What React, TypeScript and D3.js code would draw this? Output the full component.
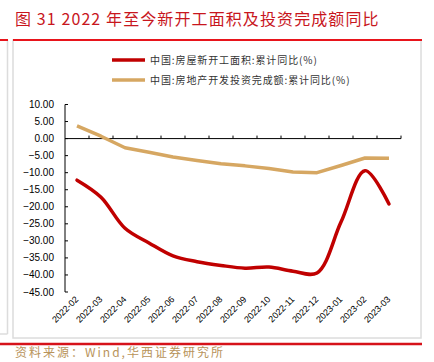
import React from 'react';
import * as d3 from 'd3';

const months = [
    '2022-02', '2022-03', '2022-04', '2022-05', '2022-06', '2022-07', '2022-08',
    '2022-09', '2022-10', '2022-11', '2022-12', '2023-01', '2023-02', '2023-03',
];
// 中国:房屋新开工面积:累计同比(%)
const newStarts = [-12.2, -17.2, -26.3, -30.6, -34.4, -36.1, -37.2, -38.0, -37.7, -38.9, -39.4, -24.5, -9.4, -19.2];
// 中国:房地产开发投资完成额:累计同比(%)
const investment = [3.7, 0.7, -2.7, -4.0, -5.4, -6.4, -7.4, -8.0, -8.8, -9.8, -10.0, -7.9, -5.7, -5.8];
const yTicks = [10, 5, 0, -5, -10, -15, -20, -25, -30, -35, -40, -45];
const legendLabels = ['中国:房屋新开工面积:累计同比(%)', '中国:房地产开发投资完成额:累计同比(%)'];

const RED = '#C00000';
const GOLD = '#D6A762';
const CJK = '"Noto Sans CJK SC", sans-serif';
const NUM = '"Liberation Sans", Arial, sans-serif';

const App: React.FC = () => {
    const width = 434;
    const height = 362;

    const x = d3.scaleBand<string>().domain(months).range([65, 401]);
    const y = d3.scaleLinear().domain([-45, 10]).range([292, 104.5]);
    const cx = (m: string) => (x(m) ?? 0) + x.bandwidth() / 2;

    const redLine = d3.line<number>()
        .x((_, i) => cx(months[i]))
        .y(d => y(d))
        .curve(d3.curveCatmullRom.alpha(0.5));
    const goldLine = d3.line<number>()
        .x((_, i) => cx(months[i]))
        .y(d => y(d));

    const fmt = d3.format('.2f');

    return (
        <svg width={width} height={height} style={{ position: 'absolute', left: 0, top: 0, background: '#fff' }}>
            {/* title */}
            <text x={15} y={25} fill="#C8161D" fontSize={16} letterSpacing={1.1} fontFamily={CJK}>
                图 31 2022 年至今新开工面积及投资完成额同比
            </text>

            {/* frame */}
            <line x1={7.5} x2={7.5} y1={40} y2={334} stroke="#dcdcdc" strokeWidth={1.5} />
            <line x1={0} x2={7.5} y1={334} y2={334} stroke="#dcdcdc" strokeWidth={1.5} />
            <rect x={13} y={40} width={408} height={298} fill="none" stroke="#dcdcdc" strokeWidth={1.5} />
            <line x1={0} x2={8} y1={40} y2={40} stroke="#E8141B" strokeWidth={2} />
            <line x1={13} x2={422} y1={40} y2={40} stroke="#E8141B" strokeWidth={2} />
            <line x1={0} x2={422} y1={344} y2={344} stroke="#D6121A" strokeWidth={2.5} />

            {/* legend */}
            {legendLabels.map((l, i) => (
                <g key={l} transform={`translate(112,${60 + i * 20})`}>
                    <line x1={0} x2={33} y1={0} y2={0} stroke={i === 0 ? RED : GOLD} strokeWidth={3.5} />
                    <text x={38} y={3.5} fontSize={10} letterSpacing={0.9} fontFamily={CJK} fill="#333">{l}</text>
                </g>
            ))}

            {/* y axis */}
            <line x1={65} x2={65} y1={y(10)} y2={y(-45)} stroke="#000" strokeWidth={1} />
            {yTicks.map(t => (
                <g key={t}>
                    <line x1={65} x2={68} y1={y(t)} y2={y(t)} stroke="#000" />
                    <text x={54} y={y(t) + 3.5} textAnchor="end" fontSize={10} fontFamily={NUM} fill="#000">
                        {fmt(t)}
                    </text>
                </g>
            ))}

            {/* x axis at zero */}
            <line x1={65} x2={401} y1={y(0)} y2={y(0)} stroke="#000" strokeWidth={1} />
            {months.map(m => (
                <line key={m} x1={(x(m) ?? 0) + x.bandwidth()} x2={(x(m) ?? 0) + x.bandwidth()}
                    y1={y(0)} y2={y(0) - 3} stroke="#000" />
            ))}
            {months.map(m => (
                <text key={m} transform={`translate(${cx(m) + 2},${300}) rotate(-45)`}
                    textAnchor="end" fontSize={9} fontFamily={NUM} fill="#000">
                    {m}
                </text>
            ))}

            {/* series */}
            <path d={goldLine(investment) || undefined} fill="none" stroke={GOLD} strokeWidth={3.5} strokeLinejoin="round" />
            <path d={redLine(newStarts) || undefined} fill="none" stroke={RED} strokeWidth={3.5} strokeLinecap="round" />

            {/* source */}
            <text x={15} y={357} fontSize={12} fontFamily={CJK} fill="#B8935A" letterSpacing={2}>
                资料来源：Wind,华西证券研究所
            </text>
        </svg>
    );
};

export default App;
